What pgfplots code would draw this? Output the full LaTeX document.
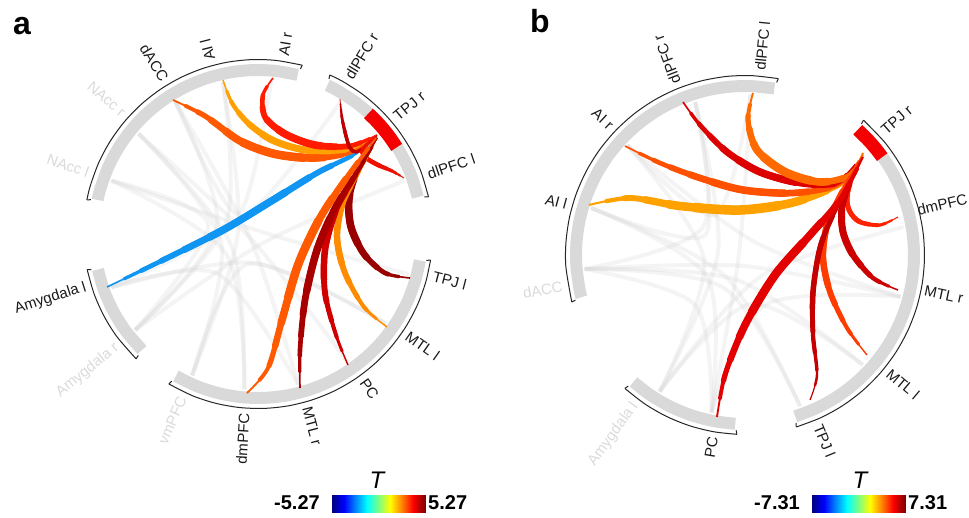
\documentclass[border=0pt]{standalone}
\usepackage{fontspec}
\setmainfont{Liberation Sans}
\usepackage{pgfplots}
\usepackage{pgfplotstable}
\pgfplotsset{compat=1.18}

\definecolor{bandgray}{HTML}{D9D9D9}
\definecolor{tpjred}{HTML}{F50000}
\definecolor{lbl}{HTML}{1A1A1A}
\definecolor{faint}{HTML}{DADADA}
\definecolor{chgray}{HTML}{D6D6D6}

\newcommand{\lf}{\fontsize{15}{18}\selectfont}
\newcommand{\lblR}[4][lbl]{\path (axis cs:0,0) ++(#2:#3pt) node[rotate=#2, anchor=mid west, text=#1, font=\lf, inner sep=0pt] {#4};}
\newcommand{\lblL}[4][lbl]{\path (axis cs:0,0) ++(#2:#3pt) node[rotate=#2+180, anchor=mid east, text=#1, font=\lf, inner sep=0pt] {#4};}

% one layer of a chord: only the middle part (trim s*L at both ends) drawn with width f*w
\newcommand{\chordlayer}[5]{% table, colour, width, length, trim fraction
 \pgfmathsetmacro\cOn{(1-2*#5)*#4}%
 \pgfmathsetmacro\cPh{3000+(1-3*#5)*#4}%
 \edef\tmp{\noexpand\addplot[draw=\unexpanded{#2}, line width=\unexpanded{#3}, smooth, line cap=round,
   dash pattern=on \cOn pt off 3000pt, dash phase=\cPh pt]}%
 \tmp table {#1};
}
% chord: table, colour, max width (pt), approximate length (pt)
\newcommand{\chord}[4]{%
 \addplot[draw=#2, line width=0.22*#3pt, smooth] table {#1};
 \chordlayer{#1}{#2}{0.45*#3pt}{#4}{0.06}
 \chordlayer{#1}{#2}{0.62*#3pt}{#4}{0.12}
 \chordlayer{#1}{#2}{0.77*#3pt}{#4}{0.19}
 \chordlayer{#1}{#2}{0.9*#3pt}{#4}{0.27}
 \chordlayer{#1}{#2}{#3pt}{#4}{0.36}
}

\pgfplotsset{
 band/.style={data cs=polar, smooth, draw=bandgray, line width=12pt},
 redseg/.style={data cs=polar, smooth, draw=tpjred, line width=13pt},
 brk/.style={data cs=polar, smooth, draw=black!85, line width=1pt},
 hook/.style={data cs=polar, draw=black!85, line width=1pt},
 gch/.style={smooth, draw=chgray, line width=4pt, opacity=0.28},
}

% ---------------- panel a chords (x, y relative to circle centre) -------------
\pgfplotstableread{
x y
-85 134
-53 118
-18 93
17 80
57 76
92 82
118 98
}\aDACC
\pgfplotstableread{
x y
-35 154
-26 131
-10 111
14 94
47 84
87 84
118 98
}\aAIl
\pgfplotstableread{
x y
15 156
5 139
7 117
27 100
57 89
92 88
119 99
}\aAIr
\pgfplotstableread{
x y
82 135
84 116
88 98
92 86
98 82
108 88
119 99
}\aDLr
\pgfplotstableread{
x y
146 56
134 63
120 69
108 76
104 82
108 89
119 98
}\aDLl
\pgfplotstableread{
x y
-151 -53
-101 -29
-35 4
15 34
59 61
95 79
119 97
}\aAMY
\pgfplotstableread{
x y
-11 -159
10 -134
24 -86
40 -31
62 16
87 54
118 96
}\aDM
\pgfplotstableread{
x y
42 -154
42 -116
47 -66
59 -16
77 26
97 59
119 96
}\aMr
\pgfplotstableread{
x y
90 -131
78 -101
67 -59
67 -16
78 24
96 56
119 96
}\aPC
\pgfplotstableread{
x y
129 -93
106 -73
87 -39
79 -4
84 29
98 58
119 96
}\aMl
\pgfplotstableread{
x y
152 -44
127 -39
106 -20
93 7
91 35
99 62
119 96
}\aTl

% ---------------- panel b chords -------------
\pgfplotstableread{
x y
8 162
3 135
12 105
40 83
75 73
105 80
118 102
}\bDLl
\pgfplotstableread{
x y
-62 153
-45 130
-18 103
15 83
55 72
92 72
117 98
}\bDLr
\pgfplotstableread{
x y
-120 109
-85 92
-45 77
-2 65
48 62
92 70
117 97
}\bAIr
\pgfplotstableread{
x y
-156 50
-115 57
-65 49
-5 45
50 53
98 73
118 100
}\bAIl
\pgfplotstableread{
x y
153 38
135 30
115 33
105 43
102 57
108 80
117 98
}\bDM
\pgfplotstableread{
x y
153 -35
128 -23
108 0
98 23
97 47
105 73
117 97
}\bMr
\pgfplotstableread{
x y
122 -100
102 -73
85 -37
78 -3
82 30
95 60
117 97
}\bMl
\pgfplotstableread{
x y
65 -145
72 -120
68 -80
68 -37
75 7
88 40
117 97
}\bTl
\pgfplotstableread{
x y
-28 -162
-20 -120
0 -70
30 -20
65 20
95 55
118 98
}\bPC

\begin{document}
\begin{tikzpicture}
\useasboundingbox (0,0) rectangle (969pt,517pt);

% ======================= panel a =======================
\begin{axis}[at={(0pt,0pt)}, anchor=south west, x=1pt, y=1pt,
  xmin=-258, xmax=227, ymin=-283, ymax=234, hide axis, clip=false]
% faint background chords
\addplot[gch] coordinates {(-146.6,53.4) (-32,-20) (-13.6,-155.4)};
\addplot[gch] coordinates {(-119.5,100.3) (-6,-6) (89.5,-127.8)};
\addplot[gch] coordinates {(-122.9,-96) (-41,7) (-82.7,132.3)};
\addplot[gch] coordinates {(-146.6,-53.4) (-4,-29) (127.8,-89.5)};
\addplot[gch] coordinates {(-65.9,-141.4) (-20,2) (-35.1,152)};
\addplot[gch] coordinates {(-146.6,53.4) (1,3) (150.7,-40.4)};
\addplot[gch] coordinates {(-119.5,100.3) (-37,-8) (-65.9,-141.4)};
\addplot[gch] coordinates {(-82.7,132.3) (-8,-4) (40.4,-150.7)};
\addplot[gch] coordinates {(-122.9,-96) (5,-9) (146.6,53.4)};
\addplot[gch] coordinates {(-146.6,-53.4) (-13,16) (82.7,132.3)};
\addplot[gch] coordinates {(-13.6,-155.4) (-27,-11) (-119.5,100.3)};
\addplot[gch] coordinates {(-35.1,152) (-32,11) (-122.9,-96)};
\addplot[gch] coordinates {(-146.6,53.4) (-50,10) (-122.9,-96)};
\addplot[gch] coordinates {(-65.9,-141.4) (-10,-30) (127.8,-89.5)};
\addplot[gch] coordinates {(-82.7,132.3) (-20,20) (13.6,155.4)};
\addplot[gch] coordinates {(-146.6,-53.4) (-40,-40) (40.4,-150.7)};
% bands
\addplot[band] coordinates {(76,164)(84,164)(92,164)(100,164)(108,164)(116,164)(124,164)(132,164)(140,164)(148,164)(156,164)(164,164)(168,164)};
\addplot[band] coordinates {(13,164)(21,164)(29,164)(37,164)(45,164)(53,164)(61,164)(65,164)};
\addplot[band] coordinates {(-120,164)(-112,164)(-104,164)(-96,164)(-88,164)(-80,164)(-72,164)(-64,164)(-56,164)(-48,164)(-40,164)(-32,164)(-24,164)(-16,164)(-9.3,164)};
\addplot[band] coordinates {(192.5,164)(200,164)(208,164)(216,164)(225,164)};
\addplot[redseg] coordinates {(32,163.5)(36,163.5)(40,163.5)(44,163.5)(47.5,163.5)};
% brackets
\addplot[brk] coordinates {(75.3,174.5)(84,174.5)(92,174.5)(100,174.5)(108,174.5)(116,174.5)(124,174.5)(132,174.5)(140,174.5)(148,174.5)(156,174.5)(164,174.5)(168.7,174.5)};
\addplot[hook] coordinates {(75.3,174.5)(75.6,170.5)};
\addplot[hook] coordinates {(168.7,174.5)(168.4,170.5)};
\addplot[brk] coordinates {(12.3,174.5)(21,174.5)(29,174.5)(37,174.5)(45,174.5)(53,174.5)(61,174.5)(65.7,174.5)};
\addplot[hook] coordinates {(12.3,174.5)(12.6,170.5)};
\addplot[hook] coordinates {(65.7,174.5)(65.4,170.5)};
\addplot[brk] coordinates {(-120.7,174.5)(-112,174.5)(-104,174.5)(-96,174.5)(-88,174.5)(-80,174.5)(-72,174.5)(-64,174.5)(-56,174.5)(-48,174.5)(-40,174.5)(-32,174.5)(-24,174.5)(-16,174.5)(-8.6,174.5)};
\addplot[hook] coordinates {(-120.7,174.5)(-120.4,170.5)};
\addplot[hook] coordinates {(-8.6,174.5)(-8.9,170.5)};
\addplot[brk] coordinates {(191.8,174.5)(200,174.5)(208,174.5)(216,174.5)(225.7,174.5)};
\addplot[hook] coordinates {(191.8,174.5)(192.1,170.5)};
\addplot[hook] coordinates {(225.7,174.5)(225.4,170.5)};
% significant chords
\chord{\aAMY}{{rgb,255:red,16;green,150;blue,242}}{7.5}{316}
\chord{\aDACC}{{rgb,255:red,255;green,88;blue,0}}{8.5}{227}
\chord{\aAIl}{{rgb,255:red,255;green,160;blue,0}}{7}{192}
\chord{\aAIr}{{rgb,255:red,255;green,26;blue,0}}{7.5}{167}
\chord{\aDLr}{{rgb,255:red,192;green,0;blue,0}}{3.5}{86}
\chord{\aDLl}{{rgb,255:red,240;green,16;blue,0}}{4.5}{74}
\chord{\aTl}{{rgb,255:red,153;green,0;blue,0}}{7.5}{183}
\chord{\aMl}{{rgb,255:red,255;green,140;blue,0}}{6.5}{219}
\chord{\aPC}{{rgb,255:red,208;green,0;blue,0}}{6.5}{248}
\chord{\aMr}{{rgb,255:red,168;green,0;blue,0}}{7.5}{272}
\chord{\aDM}{{rgb,255:red,255;green,90;blue,0}}{8.5}{295}
% labels
\lblR{81}{180}{AI r}
\lblR{104.5}{180}{AI l}
\lblL{122}{180}{dACC}
\lblL[faint]{139}{180}{NAcc r}
\lblL[faint]{161}{180}{NAcc l}
\lblR{59}{180}{dlPFC r}
\lblR{39.5}{180}{TPJ r}
\lblR{18.6}{180}{dlPFC l}
\lblR{-14.4}{180}{TPJ l}
\lblR{-35}{180}{MTL l}
\lblR{-55}{180}{PC}
\lblR{-75}{180}{MTL r}
\lblL{266.5}{180}{dmPFC}
\lblL[faint]{246}{180}{vmPFC}
\lblL{197.6}{180}{Amygdala l}
\lblL[faint]{219}{180}{Amygdala r}
\node[anchor=base west, inner sep=0pt, font=\fontsize{32}{36}\selectfont\bfseries] at (axis cs:-245,199) {a};
\node[anchor=east, inner sep=0pt, font=\fontsize{20}{24}\selectfont\bfseries] at (axis cs:62,-269) {-5.27};
\node[anchor=west, inner sep=0pt, font=\fontsize{20}{24}\selectfont\bfseries] at (axis cs:170,-269) {5.27};
\node[inner sep=0pt, font=\fontsize{24}{28}\selectfont\itshape] at (axis cs:119,-246) {T};
\end{axis}

% ======================= panel b =======================
\begin{axis}[at={(485pt,0pt)}, anchor=south west, x=1pt, y=1pt,
  xmin=-260, xmax=224, ymin=-262, ymax=255, hide axis, clip=false]
\addplot[gch] coordinates {(-160.4,-14) (-21,-33) (55.1,-151.3)};
\addplot[gch] coordinates {(-160.4,-14) (-1,-11) (155.5,-41.7)};
\addplot[gch] coordinates {(-85.3,-136.5) (-41,-5) (-117.7,109.8)};
\addplot[gch] coordinates {(-85.3,-136.5) (6,-49) (117.7,-109.8)};
\addplot[gch] coordinates {(-33.5,-157.5) (-38,-22) (-154,47.1)};
\addplot[gch] coordinates {(-160.4,-14) (-42,28) (-49.8,153.1)};
\addplot[gch] coordinates {(-85.3,-136.5) (15,-22) (158.6,28)};
\addplot[gch] coordinates {(-154,47.1) (-20,-21) (55.1,-151.3)};
\addplot[gch] coordinates {(-117.7,109.8) (8,14) (155.5,-41.7)};
\addplot[gch] coordinates {(-33.5,-157.5) (-6,1) (5.6,160.9)};
\addplot[gch] coordinates {(-160.4,-14) (-8,-25) (117.7,-109.8)};
\addplot[gch] coordinates {(-85.3,-136.5) (-27,3) (-49.8,153.1)};
\addplot[gch] coordinates {(-160.4,-14) (-50,-50) (-33.5,-157.5)};
\addplot[gch] coordinates {(-117.7,109.8) (-30,40) (5.6,160.9)};
\addplot[gch] coordinates {(-154,47.1) (-40,20) (-49.8,153.1)};
\addplot[gch] coordinates {(-33.5,-157.5) (20,-50) (155.5,-41.7)};
% bands
\addplot[band] coordinates {(80,169)(88,169)(96,169)(104,169)(112,169)(120,169)(128,169)(136,169)(144,169)(152,169)(160,169)(168,169)(176,169)(184,169)(192,169)(194.5,169)};
\addplot[band] coordinates {(-72.7,169)(-65,169)(-57,169)(-49,169)(-41,169)(-33,169)(-25,169)(-17,169)(-9,169)(-1,169)(7,169)(15,169)(23,169)(31,169)(39,169)(48,169)};
\addplot[band] coordinates {(228.7,169)(236,169)(244,169)(252,169)(260,169)(266.7,169)};
\addplot[redseg] coordinates {(35.5,168.5)(39,168.5)(43,168.5)(48,168.5)};
% brackets
\addplot[brk] coordinates {(79.3,179.5)(88,179.5)(96,179.5)(104,179.5)(112,179.5)(120,179.5)(128,179.5)(136,179.5)(144,179.5)(152,179.5)(160,179.5)(168,179.5)(176,179.5)(184,179.5)(195.2,179.5)};
\addplot[hook] coordinates {(79.3,179.5)(79.6,175.5)};
\addplot[hook] coordinates {(195.2,179.5)(194.9,175.5)};
\addplot[brk] coordinates {(-73.4,179.5)(-65,179.5)(-57,179.5)(-49,179.5)(-41,179.5)(-33,179.5)(-25,179.5)(-17,179.5)(-9,179.5)(-1,179.5)(7,179.5)(15,179.5)(23,179.5)(31,179.5)(39,179.5)(48.7,179.5)};
\addplot[hook] coordinates {(-73.4,179.5)(-73.1,175.5)};
\addplot[hook] coordinates {(48.7,179.5)(48.4,175.5)};
\addplot[brk] coordinates {(228,179.5)(236,179.5)(244,179.5)(252,179.5)(260,179.5)(267.4,179.5)};
\addplot[hook] coordinates {(228,179.5)(228.3,175.5)};
\addplot[hook] coordinates {(267.4,179.5)(267.1,175.5)};
% significant chords
\chord{\bAIl}{{rgb,255:red,255;green,162;blue,0}}{9.5}{299}
\chord{\bAIr}{{rgb,255:red,255;green,80;blue,0}}{7.5}{263}
\chord{\bDLr}{{rgb,255:red,221;green,0;blue,0}}{7.5}{224}
\chord{\bDLl}{{rgb,255:red,255;green,106;blue,0}}{8.5}{191}
\chord{\bDM}{{rgb,255:red,255;green,34;blue,0}}{5}{114}
\chord{\bMr}{{rgb,255:red,204;green,0;blue,0}}{7}{165}
\chord{\bMl}{{rgb,255:red,255;green,60;blue,0}}{6.5}{221}
\chord{\bTl}{{rgb,255:red,196;green,0;blue,0}}{5.5}{258}
\chord{\bPC}{{rgb,255:red,226;green,0;blue,0}}{8.5}{309}
% labels
\lblR{84.5}{185}{dlPFC l}
\lblR{111}{185}{dlPFC r}
\lblL{137}{185}{AI r}
\lblL{165}{185}{AI l}
\lblL[faint]{190.5}{185}{dACC}
\lblR{41}{185}{TPJ r}
\lblR{13.6}{178}{dmPFC}
\lblR{-12}{183}{MTL r}
\lblR{-40}{185}{MTL l}
\lblR{-67.6}{185}{TPJ l}
\lblL{260.8}{185}{PC}
\lblL[faint]{234}{185}{Amygdala l}
\node[anchor=base west, inner sep=0pt, font=\fontsize{32}{36}\selectfont\bfseries] at (axis cs:-215,222) {b};
\node[anchor=east, inner sep=0pt, font=\fontsize{20}{24}\selectfont\bfseries] at (axis cs:55,-248) {-7.31};
\node[anchor=west, inner sep=0pt, font=\fontsize{20}{24}\selectfont\bfseries] at (axis cs:163,-248) {7.31};
\node[inner sep=0pt, font=\fontsize{24}{28}\selectfont\itshape] at (axis cs:115,-225) {T};
\end{axis}

% ======================= colour bars =======================
\begin{axis}[at={(332pt,5pt)}, anchor=south west, width=93pt, height=17pt, scale only axis,
  hide axis, view={0}{90}, colormap/jet, xmin=-5.27, xmax=5.27, ymin=0, ymax=1]
\addplot3[surf, shader=interp, point meta=x, mesh/cols=9] coordinates {
(-5.27,0,0) (-3.9525,0,0) (-2.635,0,0) (-1.3175,0,0) (0,0,0) (1.3175,0,0) (2.635,0,0) (3.9525,0,0) (5.27,0,0)
(-5.27,1,0) (-3.9525,1,0) (-2.635,1,0) (-1.3175,1,0) (0,1,0) (1.3175,1,0) (2.635,1,0) (3.9525,1,0) (5.27,1,0)};
\end{axis}
\begin{axis}[at={(812pt,5pt)}, anchor=south west, width=93pt, height=17pt, scale only axis,
  hide axis, view={0}{90}, colormap/jet, xmin=-7.31, xmax=7.31, ymin=0, ymax=1]
\addplot3[surf, shader=interp, point meta=x, mesh/cols=9] coordinates {
(-7.31,0,0) (-5.4825,0,0) (-3.655,0,0) (-1.8275,0,0) (0,0,0) (1.8275,0,0) (3.655,0,0) (5.4825,0,0) (7.31,0,0)
(-7.31,1,0) (-5.4825,1,0) (-3.655,1,0) (-1.8275,1,0) (0,1,0) (1.8275,1,0) (3.655,1,0) (5.4825,1,0) (7.31,1,0)};
\end{axis}
\end{tikzpicture}
\end{document}
